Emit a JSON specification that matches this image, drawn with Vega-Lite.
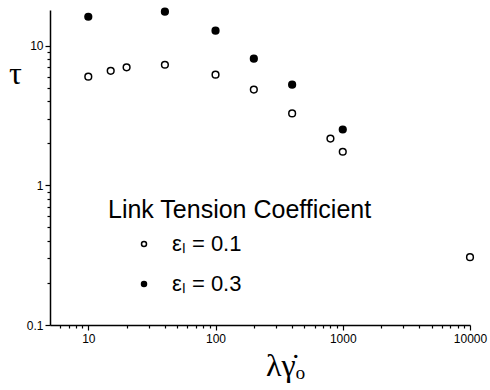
{
  "$schema": "https://vega.github.io/schema/vega-lite/v6.json",
  "width": 420,
  "height": 315,
  "autosize": {"type": "none"},
  "padding": {"left": 50, "top": 10, "right": 20, "bottom": 65},
  "background": "white",
  "config": {
    "view": {"stroke": null},
    "axis": {
      "grid": false,
      "domainColor": "black",
      "tickColor": "black",
      "labelColor": "black",
      "titleColor": "black",
      "labelFont": "Liberation Sans",
      "labelFontSize": 12,
      "domainWidth": 1.5,
      "tickWidth": 1.2
    }
  },
  "data": {
    "values": [
      {"rate": 10, "tau": 6.0, "series": "εₗ = 0.1"},
      {"rate": 15, "tau": 6.6, "series": "εₗ = 0.1"},
      {"rate": 20, "tau": 7.0, "series": "εₗ = 0.1"},
      {"rate": 40, "tau": 7.3, "series": "εₗ = 0.1"},
      {"rate": 100, "tau": 6.2, "series": "εₗ = 0.1"},
      {"rate": 200, "tau": 4.85, "series": "εₗ = 0.1"},
      {"rate": 400, "tau": 3.27, "series": "εₗ = 0.1"},
      {"rate": 800, "tau": 2.16, "series": "εₗ = 0.1"},
      {"rate": 1000, "tau": 1.74, "series": "εₗ = 0.1"},
      {"rate": 10000, "tau": 0.306, "series": "εₗ = 0.1"},
      {"rate": 10, "tau": 16.1, "series": "εₗ = 0.3"},
      {"rate": 40, "tau": 17.5, "series": "εₗ = 0.3"},
      {"rate": 100, "tau": 12.8, "series": "εₗ = 0.3"},
      {"rate": 200, "tau": 8.07, "series": "εₗ = 0.3"},
      {"rate": 400, "tau": 5.26, "series": "εₗ = 0.3"},
      {"rate": 1000, "tau": 2.51, "series": "εₗ = 0.3"}
    ]
  },
  "mark": {"type": "point", "shape": "circle", "filled": false, "stroke": "black", "strokeWidth": 1.5, "opacity": 1, "size": 45},
  "encoding": {
    "x": {
      "field": "rate",
      "type": "quantitative",
      "scale": {"type": "log", "domain": [5, 10000], "nice": false},
      "axis": {
        "title": "λγ̇ₒ",
        "titleFont": "Liberation Serif",
        "titleFontSize": 32,
        "titleFontWeight": "normal",
        "titleX": 235,
        "titleY": 50,
        "titleAlign": "center",
        "titleBaseline": "alphabetic",
        "values": [6,7,8,9,10,20,30,40,50,60,70,80,90,100,200,300,400,500,600,700,800,900,1000,2000,3000,4000,5000,6000,7000,8000,9000,10000],
        "labelExpr": "indexof([10,100,1000,10000], datum.value) >= 0 ? format(datum.value, '~g') : ''",
        "labelOverlap": false,
        "labelFlush": false,
        "labelPadding": 3,
        "tickSize": {"condition": {"test": "indexof([10,100,1000,10000], datum.value) >= 0", "value": 5}, "value": 3}
      }
    },
    "y": {
      "field": "tau",
      "type": "quantitative",
      "scale": {"type": "log", "domain": [0.1, 18], "nice": false},
      "axis": {
        "title": "τ",
        "titleFont": "Liberation Serif",
        "titleFontSize": 32,
        "titleFontWeight": "normal",
        "titleAngle": 0,
        "titleX": -35,
        "titleY": 63,
        "titleAlign": "center",
        "titleBaseline": "middle",
        "values": [0.1,0.2,0.3,0.4,0.5,0.6,0.7,0.8,0.9,1,2,3,4,5,6,7,8,9,10],
        "labelExpr": "indexof([0.1,1,10], datum.value) >= 0 ? format(datum.value, '~g') : ''",
        "labelOverlap": false,
        "labelFlush": false,
        "labelPadding": 2,
        "tickSize": {"condition": {"test": "indexof([0.1,1,10], datum.value) >= 0", "value": 5}, "value": 3}
      }
    },
    "fill": {
      "field": "series",
      "type": "nominal",
      "scale": {"domain": ["εₗ = 0.1", "εₗ = 0.3"], "range": ["white", "black"]},
      "legend": {
        "title": "Link Tension Coefficient",
        "orient": "none",
        "legendX": 58,
        "legendY": 188,
        "titleFont": "Liberation Sans",
        "titleFontSize": 25,
        "titleFontWeight": "normal",
        "titleColor": "black",
        "titleLimit": 400,
        "titlePadding": 10,
        "labelFont": "Liberation Sans",
        "labelFontSize": 22,
        "labelColor": "black",
        "labelOffset": 17,
        "symbolOffset": 25,
        "symbolSize": 25,
        "symbolType": "circle",
        "symbolStrokeColor": "black",
        "symbolStrokeWidth": 1.5,
        "rowPadding": 18,
        "labelLimit": 300
      }
    }
  }
}
